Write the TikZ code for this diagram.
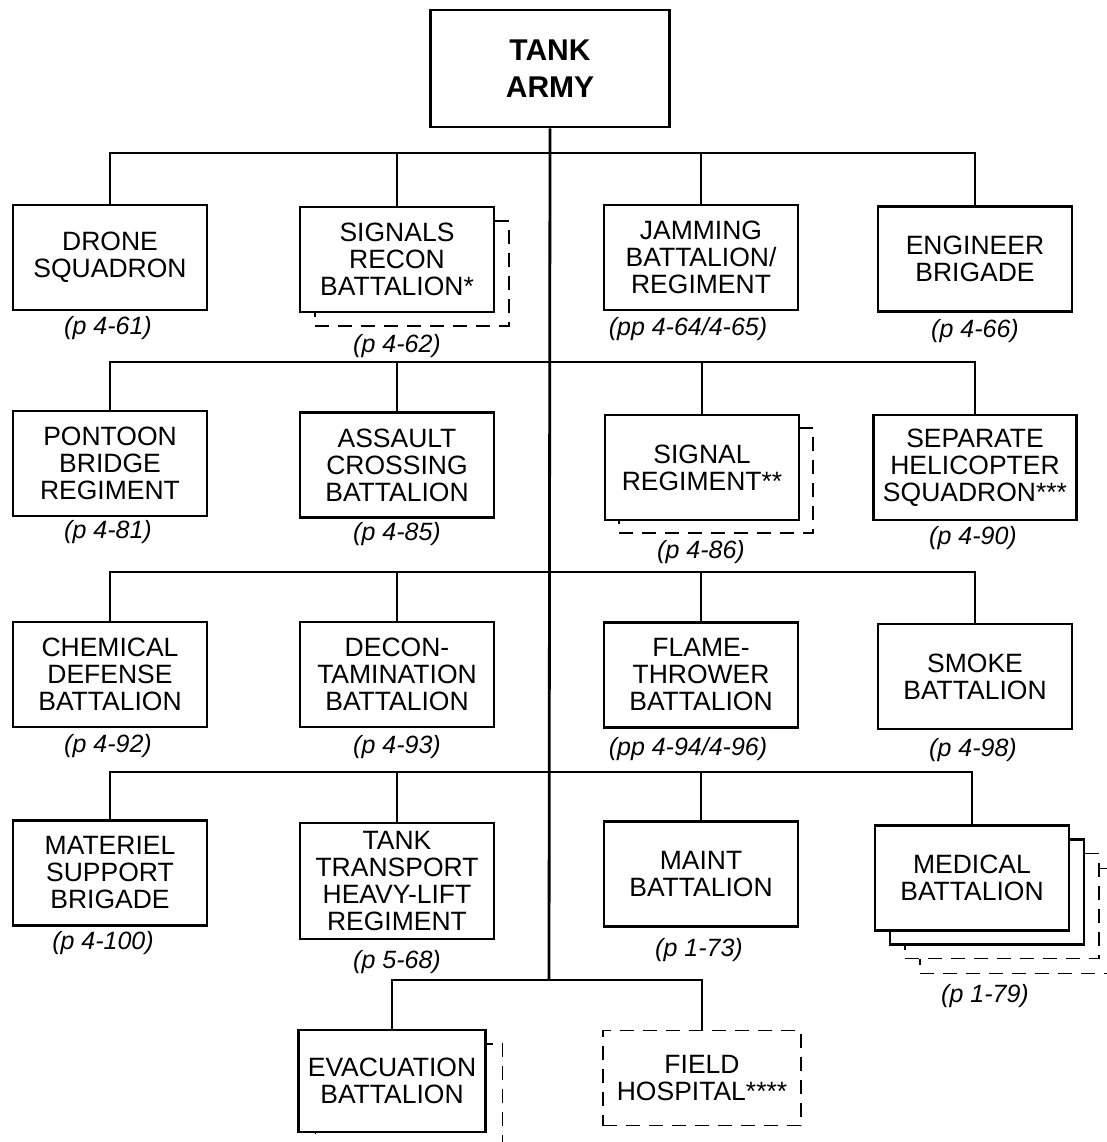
\documentclass[tikz,border=0pt]{standalone}
\usepackage{fontspec}
\setmainfont{Liberation Sans}
\begin{document}
\begin{tikzpicture}[x=1pt,y=-1pt,
  box/.style={draw, line width=2.8pt, fill=white, align=center, inner sep=0pt,
    font=\fontsize{26.5}{27}\selectfont, minimum width=194pt, minimum height=105pt},
  shad/.style={draw, line width=1.3pt, dash pattern=on 14pt off 9pt, fill=white,
    inner sep=0pt, minimum width=194pt, minimum height=105pt},
  pg/.style={font=\fontsize{25}{26}\selectfont\itshape, inner sep=0pt},
  conn/.style={line width=2.8pt}]
\useasboundingbox[fill=white] (0,0) rectangle (1106,1142);

% top
\node[box, font=\bfseries\fontsize{30}{37}\selectfont, minimum width=239pt, minimum height=117pt] (army) at (550,68.5) {TANK\\ARMY};

% bus coordinates
\coordinate (b1) at (549,153);
\coordinate (b2) at (549,362);
\coordinate (b3) at (549,572);
\coordinate (b4) at (549,772);
\coordinate (b5) at (549,980);

% row 1
\node[box] (drone) at (110,257.5) {DRONE\\SQUADRON};
\node[shad] (reconS) at (412,273.5) {};
\node[box] (recon) at (397,259.5) {SIGNALS\\RECON\\BATTALION*};
\node[box] (jam) at (701,257.5) {JAMMING\\BATTALION/\\REGIMENT};
\node[box] (eng) at (975,259) {ENGINEER\\BRIGADE};
\node[pg] (p1) at (108,328) {(p 4-61)};
\node[pg] (p2) at (397,346) {(p 4-62)};
\node[pg] (p3) at (688,329) {(pp 4-64/4-65)};
\node[pg] (p4) at (975,331) {(p 4-66)};

% row 2
\node[box] (pont) at (110,463.5) {PONTOON\\BRIDGE\\REGIMENT};
\node[box] (assault) at (397,465) {ASSAULT\\CROSSING\\BATTALION};
\node[shad] (sigS) at (716,480.5) {};
\node[box] (sig) at (702,467.5) {SIGNAL\\REGIMENT**};
\node[box, minimum width=203pt, minimum height=105pt] (heli) at (975,467.5) {SEPARATE\\HELICOPTER\\SQUADRON***};
\node[pg] (p5) at (108,532) {(p 4-81)};
\node[pg] (p6) at (397,534) {(p 4-85)};
\node[pg] (p7) at (701,552) {(p 4-86)};
\node[pg] (p8) at (973,538) {(p 4-90)};

% row 3
\node[box] (chem) at (110,674.5) {CHEMICAL\\DEFENSE\\BATTALION};
\node[box] (decon) at (397,674.5) {DECON-\\TAMINATION\\BATTALION};
\node[box] (flame) at (701,675) {FLAME-\\THROWER\\BATTALION};
\node[box] (smoke) at (975,676.5) {SMOKE\\BATTALION};
\node[pg] (p9) at (108,746) {(p 4-92)};
\node[pg] (p10) at (397,747) {(p 4-93)};
\node[pg] (p11) at (688,749) {(pp 4-94/4-96)};
\node[pg] (p12) at (973,750) {(p 4-98)};

% row 4
\node[box] (mat) at (110,873) {MATERIEL\\SUPPORT\\BRIGADE};
\node[box, minimum height=116pt] (ttr) at (397,881) {TANK\\TRANSPORT\\HEAVY-LIFT\\REGIMENT};
\node[box] (maint) at (701,874) {MAINT\\BATTALION};
\node[shad] (medD) at (1017,921) {};
\node[shad] (medC) at (1002,906) {};
\node[box] (medB) at (987,892) {};
\node[box] (med) at (972,878) {MEDICAL\\BATTALION};
\node[pg] (p13) at (103,943) {(p 4-100)};
\node[pg] (p14) at (397,962) {(p 5-68)};
\node[pg] (p15) at (699,950) {(p 1-73)};
\node[pg] (p16) at (985,996) {(p 1-79)};

% row 5
\node[shad, minimum width=187pt, minimum height=102pt] (evacS) at (409,1095) {};
\node[box, minimum width=187pt, minimum height=102pt] (evac) at (392,1081) {EVACUATION\\BATTALION};
\node[shad, align=center, font=\fontsize{26.5}{27}\selectfont, minimum width=198pt, minimum height=95pt] (field) at (702,1078) {FIELD\\HOSPITAL****};

% connectors
\draw[conn] (army.south) -- (b5);
\draw[conn] (drone.north) |- (b1) -| (eng.north);
\draw[conn] (recon.north) -- (recon.north |- b1);
\draw[conn] (jam.north) -- (jam.north |- b1);
\draw[conn] (pont.north) |- (b2) -| (heli.north);
\draw[conn] (assault.north) -- (assault.north |- b2);
\draw[conn] (sig.north) -- (sig.north |- b2);
\draw[conn] (chem.north) |- (b3) -| (smoke.north);
\draw[conn] (decon.north) -- (decon.north |- b3);
\draw[conn] (flame.north) -- (flame.north |- b3);
\draw[conn] (mat.north) |- (b4) -| (med.north);
\draw[conn] (ttr.north) -- (ttr.north |- b4);
\draw[conn] (maint.north) -- (maint.north |- b4);
\draw[conn] (evac.north) |- (b5) -| (field.north);
\end{tikzpicture}
\end{document}
